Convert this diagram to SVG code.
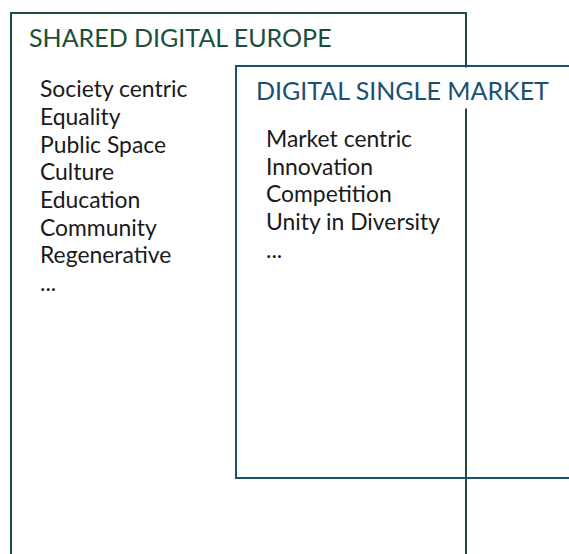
<svg xmlns="http://www.w3.org/2000/svg" width="569" height="554" viewBox="0 0 569 554">
<style>
.item{font-family:Lato,"Liberation Sans",sans-serif;font-size:22.9px;fill:#1a1a1a}
.title{font-family:Lato,"Liberation Sans",sans-serif;font-size:25px}
</style>
<rect width="569" height="554" fill="#fff"/>
<g id="shared-digital-europe">
<rect x="11" y="13" width="455" height="560" fill="none" stroke="#1d4f38" stroke-width="2"/>
</g>
<g id="digital-single-market">
<rect x="236" y="66" width="360" height="412" fill="none" stroke="#1a5170" stroke-width="2"/>
<rect x="237.5" y="67.5" width="340" height="41" fill="#fff"/>
<text class="title" x="256" y="100" fill="#1a5170">DIGITAL SINGLE MARKET</text>
<text class="item" x="266" y="147">Market centric</text>
<text class="item" x="266" y="175">Innovation</text>
<text class="item" x="266" y="202">Competition</text>
<text class="item" x="266" y="230">Unity in Diversity</text>
<text class="item" x="266" y="258">...</text>
</g>
<g id="shared-text">
<text class="title" x="29" y="47" fill="#1d4f38">SHARED DIGITAL EUROPE</text>
<text class="item" x="40" y="97">Society centric</text>
<text class="item" x="40" y="125">Equality</text>
<text class="item" x="40" y="153">Public Space</text>
<text class="item" x="40" y="180">Culture</text>
<text class="item" x="40" y="208">Education</text>
<text class="item" x="40" y="236">Community</text>
<text class="item" x="40" y="263">Regenerative</text>
<text class="item" x="40" y="291">...</text>
</g>
<g id="connectors"></g>
</svg>
